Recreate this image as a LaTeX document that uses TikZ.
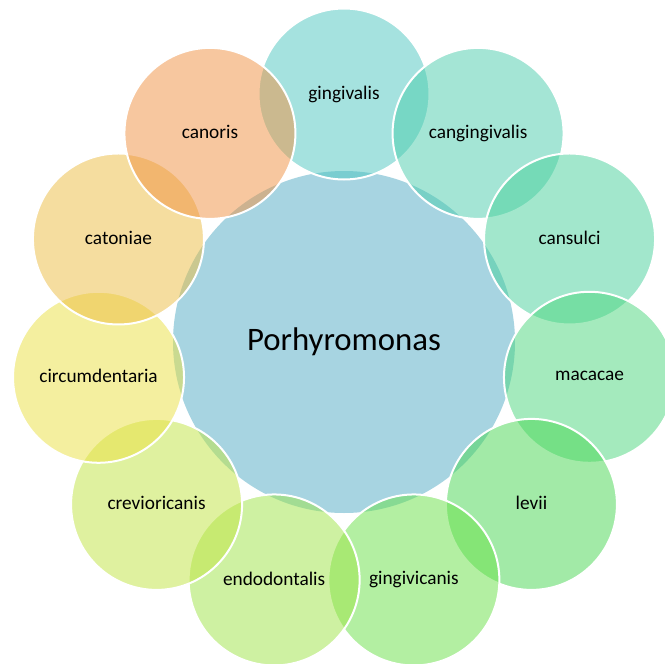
\documentclass[tikz,border=0pt]{standalone}
\usepackage{fontspec}
\setmainfont{Carlito}
\definecolor{hubblue}{RGB}{167,212,225}
\definecolor{cA}{RGB}{77,199,193}
\definecolor{cB}{RGB}{75,205,173}
\definecolor{cC}{RGB}{71,209,155}
\definecolor{cD}{RGB}{75,215,125}
\definecolor{cE}{RGB}{71,215,81}
\definecolor{cF}{RGB}{105,225,71}
\definecolor{cG}{RGB}{159,229,71}
\definecolor{cH}{RGB}{193,229,65}
\definecolor{cI}{RGB}{235,225,65}
\definecolor{cJ}{RGB}{237,189,65}
\definecolor{cK}{RGB}{241,145,65}
\begin{document}
\begin{tikzpicture}[x=1pt,y=-1pt]
\tikzset{
  petal/.style={circle, minimum size=171pt, inner sep=0pt, draw=white, line width=2pt,
    fill opacity=0.5, draw opacity=1, text opacity=1, text=black,
    font=\fontsize{19.3}{23}\selectfont},
  hubstyle/.style={circle, minimum size=342pt, inner sep=0pt, fill=hubblue, text=black,
    font=\fontsize{32.8}{39}\selectfont}
}
\useasboundingbox (0,0) rectangle (665,664);
\fill[white] (0,0) rectangle (665,664);
\coordinate (ctr) at (344,342);
\node[hubstyle] (hub) at (ctr) {\raisebox{2pt}{Porhyromonas}};
\foreach \i/\nm/\txt/\col in {0/p0/gingivalis/cA, 1/p1/cangingivalis/cB, 2/p2/cansulci/cC,
  3/p3/macacae/cD, 4/p4/levii/cE, 5/p5/gingivicanis/cF, 6/p6/endodontalis/cG,
  7/p7/crevioricanis/cH, 8/p8/circumdentaria/cI, 9/p9/catoniae/cJ, 10/p10/canoris/cK}{
  \path (ctr) ++ ({90-\i*360/11}:248pt) node[petal, fill=\col] (\nm) {\raisebox{2.5pt}{\txt}};
}
\end{tikzpicture}
\end{document}
